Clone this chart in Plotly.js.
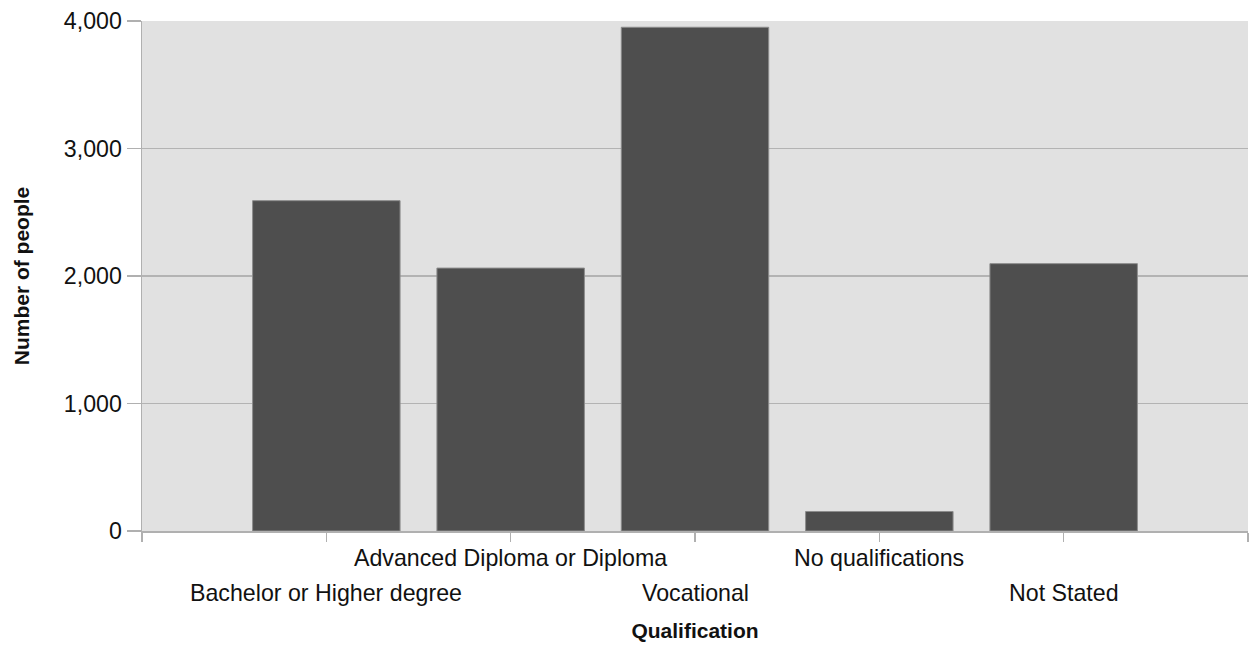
<!DOCTYPE html>
<html>
<head>
<meta charset="utf-8">
<script src="https://cdn.plot.ly/plotly-3.0.1.min.js"></script>
<style>html,body{margin:0;padding:0;background:#fff;}#chart{width:1250px;height:646px;}</style>
</head>
<body>
<div id="chart"></div>
<script>
const categories = ["Bachelor or Higher degree", "Advanced Diploma or Diploma", "Vocational", "No qualifications", "Not Stated"];
const values = [2591, 2062, 3951, 153, 2097];
const labelRow = [1, 0, 1, 0, 1]; // 0 = upper row, 1 = lower row
const yTickVals = [0, 1000, 2000, 3000, 4000];
const yTickText = ["0", "1,000", "2,000", "3,000", "4,000"];

const xs = categories.map((c, i) => i);
const FONT = "Liberation Sans, Arial, sans-serif";

const trace = {
  type: "bar",
  x: xs,
  y: values,
  width: 0.8,
  marker: {color: "#4e4e4e", line: {color: "#8c8c8c", width: 1}},
  hoverinfo: "skip"
};

const edgeTicks = [];
for (let i = -1; i <= categories.length; i++) edgeTicks.push(i);

const annotations = categories.map((c, i) => ({
  text: c,
  x: i, xref: "x",
  y: 0, yref: "y",
  yanchor: "middle", xanchor: "center",
  yshift: labelRow[i] === 0 ? -27 : -62,
  showarrow: false,
  font: {family: FONT, size: 23.2, color: "#111"}
}));

const layout = {
  width: 1250, height: 646,
  margin: {l: 142, r: 2, t: 21, b: 115, pad: 0},
  paper_bgcolor: "#ffffff",
  plot_bgcolor: "#e1e1e1",
  showlegend: false,
  font: {family: FONT, color: "#111"},
  xaxis: {
    range: [-1, categories.length],
    tickvals: edgeTicks,
    ticktext: edgeTicks.map(() => ""),
    ticks: "outside", ticklen: 9, tickcolor: "#b0b0b0", tickwidth: 1.5,
    showgrid: false, zeroline: false,
    showline: true, linecolor: "#b0b0b0", linewidth: 1.5,
    fixedrange: true,
    title: {text: "<b>Qualification</b>", font: {family: FONT, size: 21, color: "#111"}, standoff: 80}
  },
  yaxis: {
    range: [0, 4000],
    tickvals: yTickVals,
    ticktext: yTickText,
    ticks: "outside", ticklen: 14, tickcolor: "#b0b0b0", tickwidth: 1.5,
    tickfont: {family: FONT, size: 23.2, color: "#111"},
    showgrid: true, gridcolor: "#b3b3b3", gridwidth: 1.5,
    zeroline: false,
    showline: true, linecolor: "#b0b0b0", linewidth: 1.5,
    fixedrange: true,
    title: {text: "<b>Number of people</b>", font: {family: FONT, size: 21, color: "#111"}, standoff: 28}
  },
  annotations: annotations
};

Plotly.newPlot("chart", [trace], layout, {displayModeBar: false, staticPlot: true});
</script>
</body>
</html>
